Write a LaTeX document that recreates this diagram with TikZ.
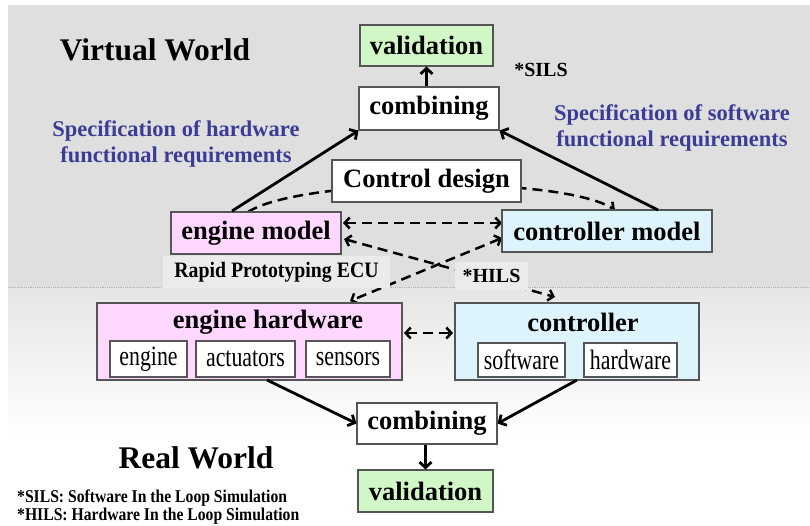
\documentclass[tikz,border=0pt]{standalone}
\usepackage{fontspec}
\setmainfont{Liberation Serif}
\newfontfamily\narrowserif[FakeStretch=0.78]{Liberation Serif}
\newfontfamily\narrowbold[FakeStretch=0.87]{Liberation Serif Bold}
\newfontfamily\semibold[FakeStretch=0.9]{Liberation Serif Bold}
\usetikzlibrary{arrows.meta}

\definecolor{bandgray}{HTML}{DFDFDF}
\definecolor{lowgray}{HTML}{E6E6E6}
\definecolor{tagbg}{HTML}{EBEBEB}
\definecolor{pinkfill}{HTML}{FFD7FF}
\definecolor{cyanfill}{HTML}{DDF4FC}
\definecolor{greenfill}{HTML}{D2F7C6}
\definecolor{specblue}{HTML}{3C3C96}
\definecolor{edge}{HTML}{555555}

\tikzset{
  box/.style={draw=edge, line width=1.1pt, inner sep=0pt, minimum height=42pt},
  big/.style={font=\fontsize{26.5}{30}\selectfont\bfseries},
  small/.style={font=\narrowserif\fontsize{28}{30}\selectfont},
  title/.style={font=\fontsize{31.5}{36}\selectfont\bfseries},
  spec/.style={font=\fontsize{22.5}{26.5}\selectfont\bfseries, text=specblue, align=center},
  tag/.style={fill=tagbg, inner sep=0pt},
  footnote/.style={anchor=base west, inner sep=0pt, font=\narrowbold\fontsize{18}{20}\selectfont},
  solidarrow/.style={line width=2.8pt, -{Straight Barb[length=5.5pt,width=12pt]}},
  dashedarrow/.style={line width=2.5pt, dash pattern=on 10pt off 6pt,
    -{Straight Barb[length=5pt,width=11pt]}},
  dashedboth/.style={line width=2.5pt, dash pattern=on 10pt off 6pt,
    {Straight Barb[length=5pt,width=11pt]}-{Straight Barb[length=5pt,width=11pt]}}
}

\begin{document}
\begin{tikzpicture}[x=1pt, y=-1pt]
\useasboundingbox (0,0) rectangle (810,525);
% background: grey virtual band over a fading real-world band
\fill[white] (0,0) rectangle (810,525);
\fill[bandgray] (8,5) rectangle (810,287);
\shade[top color=lowgray, bottom color=white] (8,287) rectangle (810,440);
\draw[densely dotted, line width=0.8pt, black!30] (8,287) -- (810,287);

% section titles
\node[title] (vw) at (155,50) {Virtual World};
\node[title] (rw) at (196,458) {Real World};

% blue requirement notes
\node[spec] (hwspec) at (176,144) {Specification of hardware\\functional requirements};
\node[spec] (swspec) at (672,128) {Specification of software\\functional requirements};
\node[font=\fontsize{20}{24}\selectfont\bfseries] (sils) at (541,70) {*SILS};

% footnotes
\node[footnote] (fn1) at (17,502) {*SILS: Software In the Loop Simulation};
\node[footnote] (fn2) at (17,520.5) {*HILS: Hardware In the Loop Simulation};

% anchor points for connectors
\coordinate (emTop) at (248,212);
\coordinate (cmTop) at (615,210);

% dashed design path running behind the Control design box
\draw[dashedarrow] (emTop) .. controls (300,178) and (560,175) .. (cmTop);

% dashed links between models and hardware
\coordinate (emR1) at (343,223);
\coordinate (emR2) at (344,239);
\coordinate (cmL1) at (502,223);
\coordinate (cmL2) at (502,238);
\coordinate (ehTop) at (350,301);
\coordinate (ctTop) at (555,297);
\draw[dashedboth] (emR1) -- (cmL1);
\draw[dashedboth] (emR2) -- (ctTop);
\draw[dashedboth] (cmL2) -- (ehTop);

% tag labels sitting over the dashed links
\node[tag, minimum width=227pt, minimum height=32pt, font=\semibold\fontsize{22}{24}\selectfont] (rp) at (276.5,272) {Rapid Prototyping ECU};
\node[tag, minimum width=73pt, minimum height=28pt, font=\fontsize{20}{24}\selectfont\bfseries] (hils) at (491.5,276) {*HILS};

% virtual-world boxes
\node[box, big, fill=greenfill, minimum width=133pt, minimum height=41pt] (valT) at (426.5,45.5) {validation};
\node[box, big, fill=white, minimum width=140pt, minimum height=43pt] (combT) at (429,108.5) {combining};
\node[box, big, fill=white, minimum width=189pt, minimum height=42pt] (cd) at (426.5,181) {Control design};
\node[box, big, fill=pinkfill, minimum width=170pt, minimum height=42pt] (em) at (256,233) {engine model};
\node[box, big, fill=cyanfill, minimum width=210pt, minimum height=42pt] (cm) at (607,231) {controller model};

% real-world containers
\node[box, fill=pinkfill, minimum width=305pt, minimum height=77pt] (eh) at (249.5,341.5) {};
\node[big] (ehT) at (268,322) {engine hardware};
\node[box, small, fill=white, minimum width=77pt, minimum height=36pt] (eng) at (148.5,359) {engine};
\node[box, small, fill=white, minimum width=99pt, minimum height=36pt] (act) at (245.5,359) {actuators};
\node[box, small, fill=white, minimum width=84pt, minimum height=36pt] (sen) at (348,359) {sensors};

\node[box, fill=cyanfill, minimum width=244pt, minimum height=77pt] (ct) at (577,341.5) {};
\node[big] (ctT) at (583,322) {controller};
\node[box, small, fill=white, minimum width=87pt, minimum height=34pt] (sw) at (521.5,360) {software};
\node[box, small, fill=white, minimum width=93pt, minimum height=34pt] (hw) at (630.5,360) {hardware};

\node[box, big, fill=white, minimum width=140pt, minimum height=41pt] (combB) at (427,423.5) {combining};
\node[box, big, fill=greenfill, minimum width=135pt, minimum height=42pt] (valB) at (425.5,491) {validation};

% solid flow arrows
\coordinate (emUp) at (232,211);
\coordinate (cmUp) at (658,210);
\draw[solidarrow] (emUp) -- (combT.south west);
\draw[solidarrow] (cmUp) -- (combT.south east);
\draw[solidarrow] (combT.north -| valT.south) -- (valT.south);

\coordinate (ehOut) at (267,380);
\coordinate (ctOut) at (577,380);
\draw[solidarrow] (ehOut) -- (combB.west);
\draw[solidarrow] (ctOut) -- (combB.east);
\draw[solidarrow] (combB.south -| valB.north) -- (valB.north);

% hardware-in-the-loop link
\coordinate (ehE) at (404,333);
\coordinate (ctW) at (453,333);
\draw[dashedboth] (ehE) -- (ctW);
\end{tikzpicture}
\end{document}
